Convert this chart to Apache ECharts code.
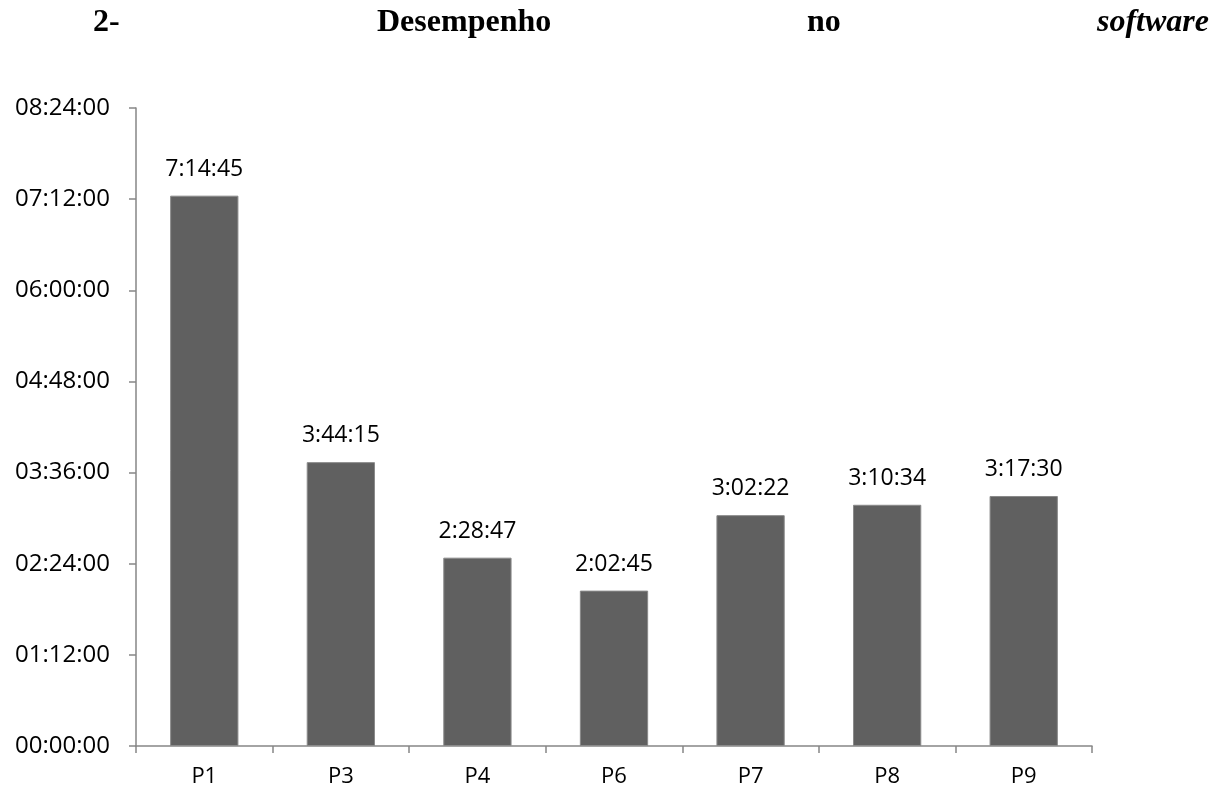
<!DOCTYPE html>
<html><head><meta charset="utf-8">
<script src="https://cdn.jsdelivr.net/npm/echarts@6/dist/echarts.min.js"></script>
<style>html,body{margin:0;padding:0;background:#fff;}#c{width:1223px;height:793px;}</style>
</head><body><div id="c"></div>
<script>
const categories = ["P1","P3","P4","P6","P7","P8","P9"];
const valueLabels = ["7:14:45","3:44:15","2:28:47","2:02:45","3:02:22","3:10:34","3:17:30"];
const yTickLabels = ["00:00:00","01:12:00","02:24:00","03:36:00","04:48:00","06:00:00","07:12:00","08:24:00"];
const titleWords = ["2-","Desempenho","no","software"];
function toSec(s){const p=s.split(":").map(Number);return p[0]*3600+p[1]*60+p[2];}
const values = valueLabels.map(toSec);
const tickSec = yTickLabels.map(toSec);
const chart = echarts.init(document.getElementById('c'));
const step = tickSec[1]-tickSec[0];
const titleX = [93,377,807,1097];
const titleFonts = ['bold 32px "Liberation Serif"','bold 32px "Liberation Serif"','bold 32px "Liberation Serif"','italic bold 32px "Liberation Serif"'];
chart.setOption({
  animation:false,
  graphic: titleWords.map((w,i)=>({type:'text',x:titleX[i],y:23,
    style:{text:w,font:titleFonts[i],fill:'#000',align:'left',verticalAlign:'middle'}})),
  grid:{left:136,right:131,top:108,bottom:47},
  xAxis:{type:'category',data:categories,
    axisLine:{lineStyle:{color:'#868686',width:1.5}},
    axisTick:{show:true,length:7,lineStyle:{color:'#868686',width:1.5}},
    axisLabel:{color:'#000',fontFamily:'Open Sans',fontSize:22,margin:20}},
  yAxis:{type:'value',min:tickSec[0],max:tickSec[tickSec.length-1],interval:step,
    splitLine:{show:false},
    axisLine:{show:true,lineStyle:{color:'#868686',width:1.5}},
    axisTick:{show:true,length:7,lineStyle:{color:'#868686',width:1.5}},
    axisLabel:{color:'#000',fontFamily:'Open Sans',fontSize:24,margin:26,
      formatter:v=>{const i=tickSec.indexOf(v);return i>=0?yTickLabels[i]:'';}}},
  series:[{type:'bar',data:values,barCategoryGap:'50%',
    itemStyle:{color:'#606060',borderColor:'#8a8a8a',borderWidth:1},
    label:{show:true,position:'top',distance:15,color:'#000',fontFamily:'Open Sans',fontSize:23,
      formatter:p=>valueLabels[p.dataIndex]}}]
});
</script></body></html>
